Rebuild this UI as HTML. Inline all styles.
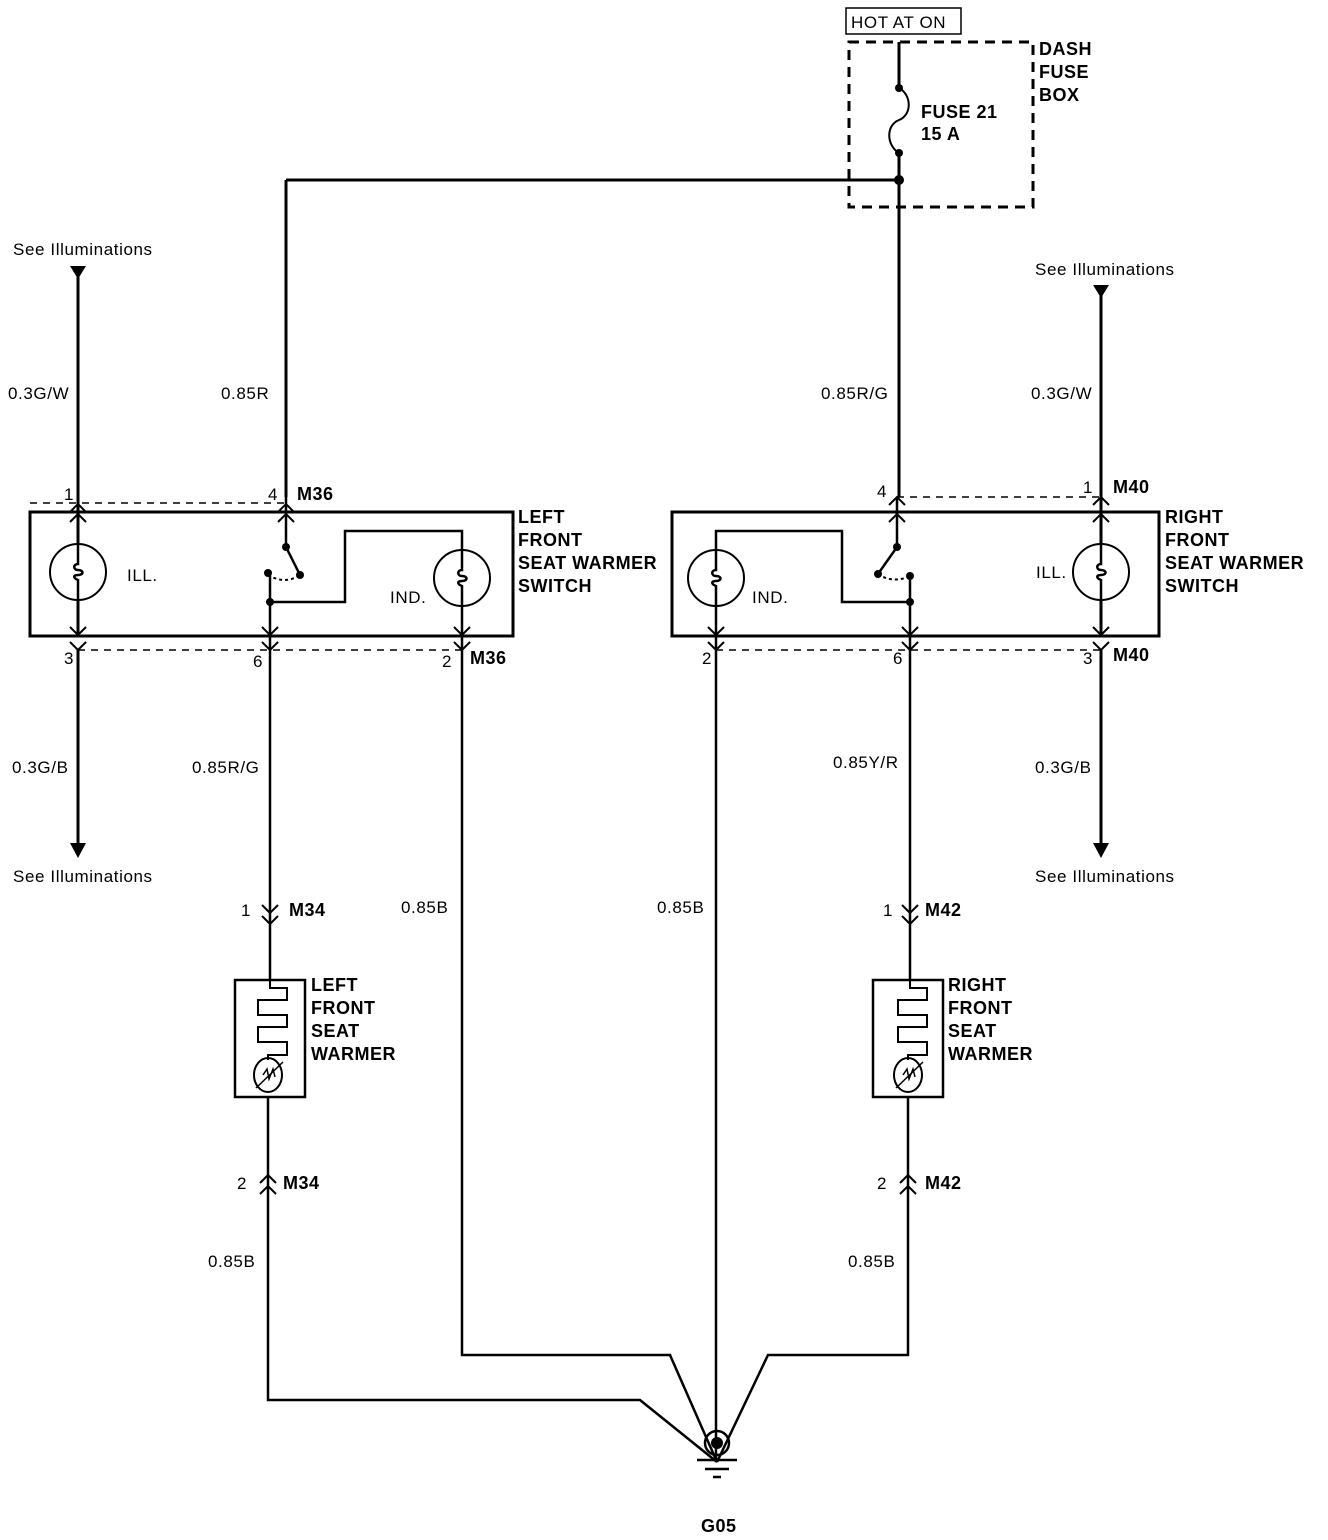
<!DOCTYPE html>
<html><head><meta charset="utf-8"><style>
html,body{margin:0;padding:0;background:#fff}
svg{display:block}
text{font-family:"Liberation Sans",Arial,sans-serif;font-size:17px;letter-spacing:0.6px;fill:#000}
.b{font-weight:bold;font-size:18px;letter-spacing:0.5px}
</style></head><body>
<svg width="1328" height="1540" viewBox="0 0 1328 1540" xmlns="http://www.w3.org/2000/svg">
<defs>
<g id="up"><polyline points="-8,8 0,0 8,8" fill="none" stroke="#000" stroke-width="2"/></g>
<g id="dn"><polyline points="-8,-8 0,0 8,-8" fill="none" stroke="#000" stroke-width="2"/></g>
<g id="lamp"><circle cx="0" cy="0" r="28" fill="#fff" stroke="#000" stroke-width="2"/>
<path d="M0,-28 V-8 C-5,-8 -5,-2 0,-2 C6,-2 6,3 0,3 C-5,3 -5,6 0,8 V28" fill="none" stroke="#000" stroke-width="2.5"/></g>
</defs>
<g fill="none" stroke="#000" stroke-width="3">
<rect x="846" y="8" width="115" height="26" stroke-width="1.5"/>
<rect x="849" y="42" width="184" height="165" stroke-dasharray="10,7"/>
<path d="M899,42 V88 M899,153 V497"/>
<path d="M899,88 C912,95 912,115 899,120 C886,125 886,145 899,153" stroke-width="2"/>
<path d="M286,180 H899 M286,180 V497"/>
<rect x="30" y="512" width="483" height="124"/>
<path d="M78,272 V636 M78,650 V845"/>
<path d="M286,497 V547 M300,575 L286,547" stroke-width="2.5"/>
<path d="M270,573 V650 M270,602 H345 V531 H462 V650 M462,650 V1355 H670 L717,1462" stroke-width="2.5"/>
<path d="M268,575 Q285,585 300,575" stroke-dasharray="3,3" stroke-width="2"/>
<path d="M30,503 H286 M78,650 H462" stroke-width="1.5" stroke-dasharray="7,6"/>
<rect x="672" y="512" width="487" height="124"/>
<path d="M1101,292 V636 M1101,650 V845"/>
<path d="M897,497 V547 L878,574" stroke-width="2.5"/>
<path d="M910,576 V650 M910,602 H842 V531 H716 V650" stroke-width="2.5"/>
<path d="M878,574 Q893,584 910,576" stroke-dasharray="3,3" stroke-width="2"/>
<path d="M897,497 H1101 M716,650 H1101" stroke-width="1.5" stroke-dasharray="7,6"/>
<path d="M270,650 V980 M268,1097 V1400 H640 L717,1462" stroke-width="2.5"/>
<path d="M716,650 V1462" stroke-width="2.5"/>
<path d="M910,650 V980 M908,1097 V1355 H768 L717,1462" stroke-width="2.5"/>
<rect x="235" y="980" width="70" height="117" stroke-width="2.5"/>
<rect x="873" y="980" width="70" height="117" stroke-width="2.5"/>
<path d="M270,980 V988 H287 V1000 H258 V1015 H287 V1027 H258 V1042 H287 V1055 H268 V1060" stroke-width="2"/>
<path d="M910,980 V988 H927 V1000 H898 V1015 H927 V1027 H898 V1042 H927 V1055 H908 V1060" stroke-width="2"/>
<ellipse cx="268" cy="1075" rx="14" ry="17" stroke-width="2"/>
<ellipse cx="908" cy="1075" rx="14" ry="17" stroke-width="2"/>
<path d="M256,1088 L283,1062 M263,1075 l4,-6 l2,10 l4,-10 l2,8" stroke-width="1.5"/>
<path d="M896,1088 L923,1062 M903,1075 l4,-6 l2,10 l4,-10 l2,8" stroke-width="1.5"/>
<circle cx="717" cy="1443" r="12" stroke-width="2.5"/>
<path d="M697,1460 H737 M705,1469 H729 M713,1477 H721" stroke-width="2.5"/>
</g>
<use href="#lamp" x="78" y="572"/>
<use href="#lamp" x="462" y="578"/>
<use href="#lamp" x="716" y="578"/>
<use href="#lamp" x="1101" y="572"/>
<g fill="#000">
<circle cx="899" cy="88" r="4"/><circle cx="899" cy="153" r="4"/><circle cx="899" cy="180" r="5"/>
<circle cx="286" cy="547" r="4"/><circle cx="300" cy="575" r="4"/><circle cx="268" cy="573" r="4"/><circle cx="270" cy="602" r="4"/>
<circle cx="897" cy="547" r="4"/><circle cx="878" cy="574" r="4"/><circle cx="910" cy="576" r="4"/><circle cx="910" cy="602" r="4"/>
<circle cx="717" cy="1443" r="6"/>
<polygon points="70,266 86,266 78,279"/>
<polygon points="1093,285 1109,285 1101,298"/>
<polygon points="70,843 86,843 78,858"/>
<polygon points="1093,843 1109,843 1101,858"/>
</g>
<use href="#up" x="78" y="504"/><use href="#up" x="78" y="514"/>
<use href="#up" x="286" y="504"/><use href="#up" x="286" y="514"/>
<use href="#up" x="897" y="497"/><use href="#up" x="897" y="514"/>
<use href="#up" x="1101" y="497"/><use href="#up" x="1101" y="514"/>
<use href="#dn" x="78" y="635"/><use href="#dn" x="78" y="650"/>
<use href="#dn" x="270" y="635"/><use href="#dn" x="270" y="650"/>
<use href="#dn" x="462" y="635"/><use href="#dn" x="462" y="650"/>
<use href="#dn" x="716" y="635"/><use href="#dn" x="716" y="650"/>
<use href="#dn" x="910" y="635"/><use href="#dn" x="910" y="650"/>
<use href="#dn" x="1101" y="635"/><use href="#dn" x="1101" y="650"/>
<use href="#dn" x="270" y="913"/><use href="#dn" x="270" y="924"/>
<use href="#dn" x="910" y="913"/><use href="#dn" x="910" y="924"/>
<use href="#up" x="268" y="1175"/><use href="#up" x="268" y="1186"/>
<use href="#up" x="908" y="1175"/><use href="#up" x="908" y="1186"/>
<text x="851" y="28">HOT AT ON</text>
<text class="b" x="1039" y="55">DASH</text><text class="b" x="1039" y="78">FUSE</text><text class="b" x="1039" y="101">BOX</text>
<text class="b" x="921" y="118">FUSE 21</text><text class="b" x="921" y="140">15 A</text>
<text x="13" y="255">See Illuminations</text>
<text x="1035" y="275">See Illuminations</text>
<text x="13" y="882">See Illuminations</text>
<text x="1035" y="882">See Illuminations</text>
<text x="8" y="399">0.3G/W</text><text x="221" y="399">0.85R</text>
<text x="821" y="399">0.85R/G</text><text x="1031" y="399">0.3G/W</text>
<text x="64" y="500">1</text><text x="268" y="500">4</text><text class="b" x="297" y="500">M36</text>
<text x="877" y="497">4</text><text x="1083" y="493">1</text><text class="b" x="1113" y="493">M40</text>
<text x="64" y="664">3</text><text x="253" y="667">6</text><text x="442" y="667">2</text><text class="b" x="470" y="664">M36</text>
<text x="702" y="664">2</text><text x="893" y="664">6</text><text x="1083" y="664">3</text><text class="b" x="1113" y="661">M40</text>
<text x="127" y="581">ILL.</text><text x="390" y="603">IND.</text>
<text x="752" y="603">IND.</text><text x="1036" y="578">ILL.</text>
<text class="b" x="518" y="523">LEFT</text><text class="b" x="518" y="546">FRONT</text><text class="b" x="518" y="569">SEAT WARMER</text><text class="b" x="518" y="592">SWITCH</text>
<text class="b" x="1165" y="523">RIGHT</text><text class="b" x="1165" y="546">FRONT</text><text class="b" x="1165" y="569">SEAT WARMER</text><text class="b" x="1165" y="592">SWITCH</text>
<text x="12" y="773">0.3G/B</text><text x="192" y="773">0.85R/G</text>
<text x="833" y="768">0.85Y/R</text><text x="1035" y="773">0.3G/B</text>
<text x="401" y="913">0.85B</text><text x="657" y="913">0.85B</text>
<text x="241" y="916">1</text><text class="b" x="289" y="916">M34</text>
<text x="883" y="916">1</text><text class="b" x="925" y="916">M42</text>
<text class="b" x="311" y="991">LEFT</text><text class="b" x="311" y="1014">FRONT</text><text class="b" x="311" y="1037">SEAT</text><text class="b" x="311" y="1060">WARMER</text>
<text class="b" x="948" y="991">RIGHT</text><text class="b" x="948" y="1014">FRONT</text><text class="b" x="948" y="1037">SEAT</text><text class="b" x="948" y="1060">WARMER</text>
<text x="237" y="1189">2</text><text class="b" x="283" y="1189">M34</text>
<text x="877" y="1189">2</text><text class="b" x="925" y="1189">M42</text>
<text x="208" y="1267">0.85B</text><text x="848" y="1267">0.85B</text>
<text class="b" x="701" y="1532">G05</text>
</svg>
</body></html>
